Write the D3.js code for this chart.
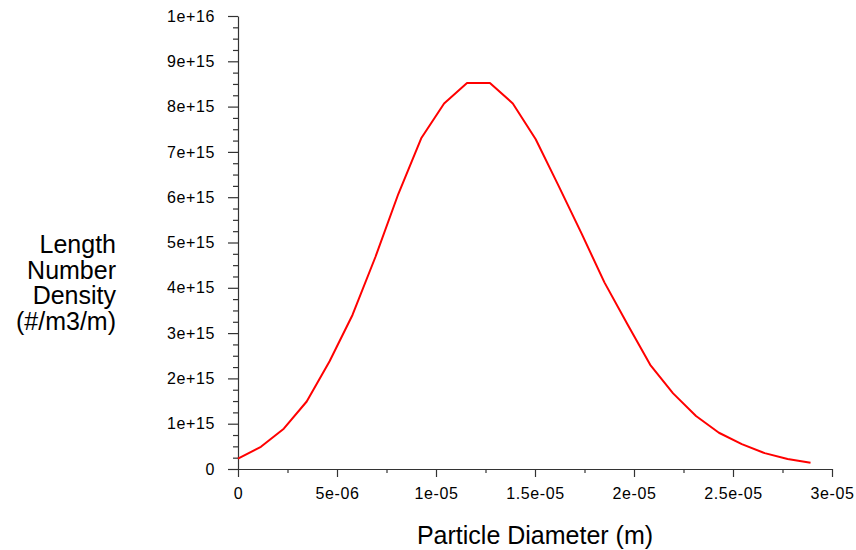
<!DOCTYPE html>
<html>
<head>
<meta charset="utf-8">
<script src="https://cdn.jsdelivr.net/npm/d3@7"></script>
<style>
  body { margin: 0; background: #fff; }
  svg { display: block; font-family: "Liberation Sans", Arial, sans-serif; }
</style>
</head>
<body>
<div id="chart-area"></div>
<script>
// particle size distribution
const diameters = [
  0, 1.157e-6, 2.313e-6, 3.470e-6, 4.626e-6, 5.783e-6, 6.940e-6, 8.096e-6,
  9.253e-6, 1.0409e-5, 1.1566e-5, 1.2723e-5, 1.3879e-5, 1.5036e-5, 1.6192e-5,
  1.7349e-5, 1.8506e-5, 1.9662e-5, 2.0819e-5, 2.1975e-5, 2.3132e-5, 2.4289e-5,
  2.5445e-5, 2.6602e-5, 2.7758e-5, 2.8915e-5
];
const densities = [
  0.23e15, 0.49e15, 0.89e15, 1.49e15, 2.38e15, 3.40e15, 4.68e15, 6.07e15,
  7.30e15, 8.07e15, 8.52e15, 8.52e15, 8.07e15, 7.28e15, 6.25e15,
  5.20e15, 4.12e15, 3.20e15, 2.30e15, 1.67e15, 1.17e15, 0.80e15,
  0.55e15, 0.35e15, 0.22e15, 0.14e15
];

const xTicks = [0, 5e-6, 1e-5, 1.5e-5, 2e-5, 2.5e-5, 3e-5];
const xTickLabels = ["0", "5e-06", "1e-05", "1.5e-05", "2e-05", "2.5e-05", "3e-05"];
const yTicks = [0, 1e15, 2e15, 3e15, 4e15, 5e15, 6e15, 7e15, 8e15, 9e15, 1e16];
const yTickLabels = ["0", "1e+15", "2e+15", "3e+15", "4e+15", "5e+15", "6e+15", "7e+15", "8e+15", "9e+15", "1e+16"];
const yTitleLines = ["Length", "Number", "Density", "(#/m3/m)"];
const xTitle = "Particle Diameter (m)";

const W = 856, H = 550;
const plot = { left: 238, right: 832, top: 16, bottom: 469 };

const svg = d3.select("#chart-area")
  .append("svg")
  .attr("width", W)
  .attr("height", H);

const xScale = d3.scaleLinear().domain([0, 3e-5]).range([plot.left, plot.right]);
const yScale = d3.scaleLinear().domain([0, 1e16]).range([plot.bottom, plot.top]);

const axisColor = "#333";

// x axis: major ticks + one minor tick between them
const xAxis = d3.axisBottom(xScale)
  .tickValues(xTicks)
  .tickSize(8)
  .tickSizeOuter(0)
  .tickFormat((d, i) => xTickLabels[i]);
const xMinor = d3.axisBottom(xScale)
  .tickValues(d3.range(0, 6).map(i => 2.5e-6 + i * 5e-6))
  .tickSize(4)
  .tickSizeOuter(0)
  .tickFormat("");

const xg = svg.append("g").attr("transform", `translate(0,${plot.bottom})`).call(xAxis);
svg.append("g").attr("transform", `translate(0,${plot.bottom})`).call(xMinor)
  .select(".domain").remove();

// y axis: major ticks + three minor ticks between them
const yAxis = d3.axisLeft(yScale)
  .tickValues(yTicks)
  .tickSize(10)
  .tickSizeOuter(0)
  .tickFormat((d, i) => yTickLabels[i]);
const yMinorVals = [];
for (let i = 0; i < 10; i++) {
  [0.25, 0.5, 0.75].forEach(f => yMinorVals.push((i + f) * 1e15));
}
const yMinor = d3.axisLeft(yScale)
  .tickValues(yMinorVals)
  .tickSize(5)
  .tickSizeOuter(0)
  .tickFormat("");

const yg = svg.append("g").attr("transform", `translate(${plot.left},0)`).call(yAxis);
svg.append("g").attr("transform", `translate(${plot.left},0)`).call(yMinor)
  .select(".domain").remove();

svg.selectAll(".domain, .tick line")
  .attr("stroke", axisColor)
  .attr("stroke-width", 1.2);

xg.selectAll("text")
  .attr("y", 19)
  .attr("dy", "0.71em")
  .style("font-size", "16px")
  .style("letter-spacing", "0.6px")
  .attr("fill", "#000");
yg.selectAll("text")
  .attr("x", -23)
  .style("font-size", "16px")
  .style("letter-spacing", "0.6px")
  .attr("fill", "#000");

// curve
const lineGen = d3.line()
  .x((d, i) => xScale(diameters[i]))
  .y(d => yScale(d));

svg.append("path")
  .datum(densities)
  .attr("fill", "none")
  .attr("stroke", "#ff0000")
  .attr("stroke-width", 2)
  .attr("stroke-linejoin", "round")
  .attr("d", lineGen);

// axis titles
svg.append("text")
  .attr("x", (plot.left + plot.right) / 2)
  .attr("y", 544)
  .attr("text-anchor", "middle")
  .style("font-size", "25px")
  .attr("fill", "#000")
  .text(xTitle);

svg.append("text")
  .attr("text-anchor", "end")
  .style("font-size", "25px")
  .attr("fill", "#000")
  .selectAll("tspan")
  .data(yTitleLines)
  .enter()
  .append("tspan")
  .attr("x", 116)
  .attr("y", (d, i) => 253 + i * 25.5)
  .text(d => d);
</script>
</body>
</html>
